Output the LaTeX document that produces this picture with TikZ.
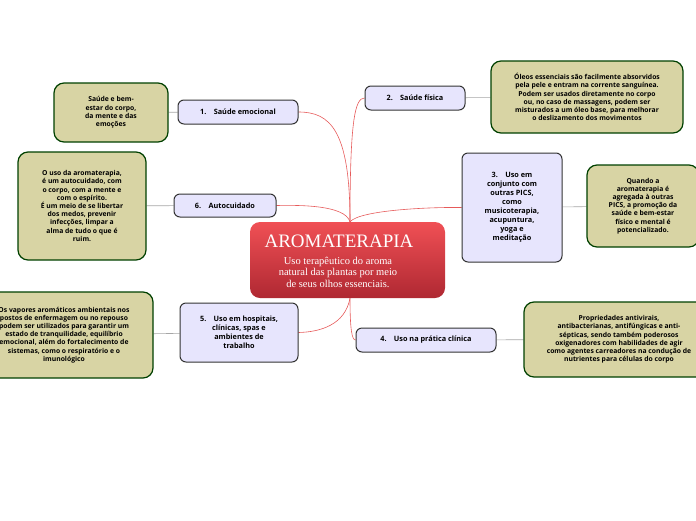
\documentclass[tikz,border=0pt]{standalone}
\usepackage{fontspec}
\setmainfont{Open Sans}
\newfontfamily\titlefont{Liberation Serif}
\usetikzlibrary{backgrounds}
\begin{document}
\begin{tikzpicture}[x=1pt,y=-1pt,
 main/.style={draw=black!80,line width=1pt,fill=violet!15!blue!10!white,rounded corners=6pt,font=\bfseries\fontsize{7.3}{9}\selectfont,align=center,inner sep=2pt},
 leaf/.style={draw=black!75!green,line width=1.2pt,fill={rgb,255:red,216;green,212;blue,164},rounded corners=10pt,font=\bfseries\fontsize{6.8}{8.2}\selectfont,align=center,inner sep=3pt},
 rl/.style={draw={rgb,255:red,230;green,90;blue,90},line width=0.6pt},
 gl/.style={draw=black!35,line width=0.6pt}]
\useasboundingbox (0,0) rectangle (696,520);
\shade[top color={rgb,255:red,240;green,80;blue,85},bottom color={rgb,255:red,175;green,40;blue,50},rounded corners=10pt] (250,222) rectangle (445,298);
\node[draw=none,minimum width=195,minimum height=76,inner sep=0] (c) at (347.5,260) {};
\node[font=\titlefont\fontsize{19}{21}\selectfont,text=white] (ct) at (339,241) {AROMATERAPIA};
\node[font=\titlefont\fontsize{10.5}{11.5}\selectfont,text=white,align=center] (cs) at (338,272) {Uso terapêutico do aroma\\natural das plantas por meio\\de seus olhos essenciais.};
\node[main,minimum width=120,minimum height=24] (m1) at (238,112) {1.\quad Saúde emocional};
\node[main,minimum width=100,minimum height=24] (m2) at (415,98) {2.\quad Saúde física};
\node[main,minimum width=100,minimum height=109] (m3) at (512,207.5) {3.\quad Uso em\\conjunto com\\outras PICS,\\como\\musicoterapia,\\acupuntura,\\yoga e\\meditação};
\node[main,minimum width=140,minimum height=24] (m4) at (426,340) {4.\quad Uso na prática clínica};
\node[main,minimum width=118,minimum height=59] (m5) at (239,332.5) {5.\quad Uso em hospitais,\\clínicas, spas e\\ambientes de\\trabalho};
\node[main,minimum width=102,minimum height=23] (m6) at (225,205.5) {6.\quad Autocuidado};
\node[leaf,minimum width=114,minimum height=59] (l1) at (111,112.5) {Saúde e bem-\\estar do corpo,\\da mente e das\\emoções};
\node[leaf,minimum width=192,minimum height=72] (l2) at (587,97) {Óleos essenciais são facilmente absorvidos\\pela pele e entram na corrente sanguínea.\\Podem ser usados diretamente no corpo\\ou, no caso de massagens, podem ser\\misturados a um óleo base, para melhorar\\o deslizamento dos movimentos};
\node[leaf,minimum width=112,minimum height=82] (l3) at (643,206) {Quando a\\aromaterapia é\\agregada à outras\\PICS, a promoção da\\saúde e bem-estar\\físico e mental é\\potencializado.};
\node[leaf,minimum width=190,minimum height=75] (l4) at (619,339.5) {Propriedades antivirais,\\antibacterianas, antifúngicas e anti-\\sépticas, sendo também poderosos\\oxigenadores com habilidades de agir\\como agentes carreadores na condução de\\nutrientes para células do corpo};
\node[leaf,minimum width=178,minimum height=86] (l5) at (64,335) {Os vapores aromáticos ambientais nos\\postos de enfermagem ou no repouso\\podem ser utilizados para garantir um\\estado de tranquilidade, equilíbrio\\emocional, além do fortalecimento de\\sistemas, como o respiratório e o\\imunológico};
\node[leaf,minimum width=128,minimum height=108] (l6) at (82,206) {O uso da aromaterapia,\\é um autocuidado, com\\o corpo, com a mente e\\com o espírito.\\É um meio de se libertar\\dos medos, prevenir\\infecções, limpar a\\alma de tudo o que é\\ruim.};
\begin{scope}[on background layer]
\draw[rl] ([xshift=2.5pt]c.north) .. controls (350,130) and (330,112) .. (m1.east);
\draw[rl] ([xshift=2.5pt]c.north) .. controls (350,120) and (355,98) .. (m2.west);
\draw[rl] ([xshift=2.5pt]c.north) .. controls (360,210) and (430,207) .. (m3.west);
\draw[rl] ([xshift=2.5pt]c.north) .. controls (345,205) and (300,205) .. (m6.east);
\draw[rl] ([xshift=2.5pt]c.south) .. controls (350,330) and (352,340) .. (m4.west);
\draw[rl] ([xshift=2.5pt]c.south) .. controls (345,325) and (320,332) .. (m5.east);
\draw[gl] (m1) -- (l1); \draw[gl] (m2) -- (l2); \draw[gl] (m3) -- (l3);
\draw[gl] (m4) -- (l4); \draw[gl] (m5) -- (l5); \draw[gl] (m6) -- (l6);
\end{scope}
\end{tikzpicture}
\end{document}
